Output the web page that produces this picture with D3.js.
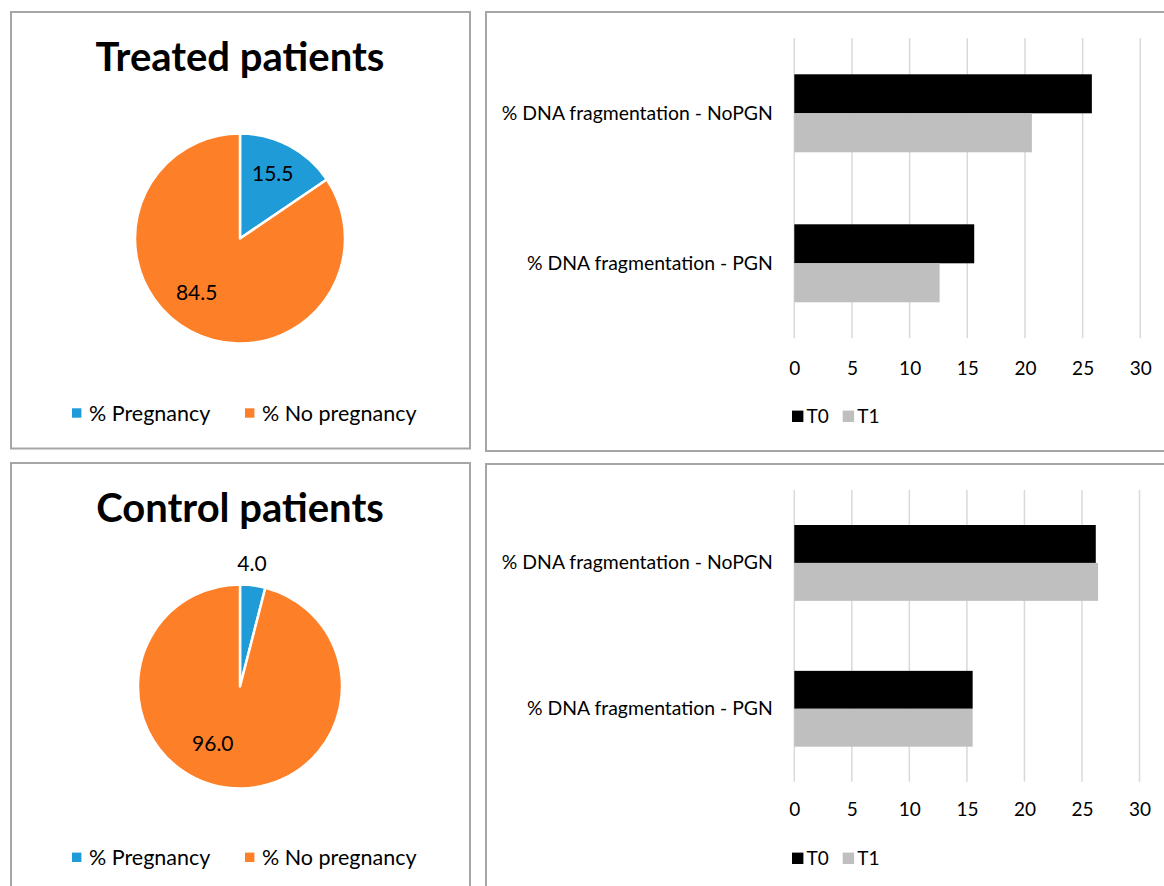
<!DOCTYPE html>
<html>
<head>
<meta charset="utf-8">
<script src="https://cdn.jsdelivr.net/npm/d3@7"></script>
<style>
  body { margin: 0; background: #fff; }
  text { font-family: Lato, "Open Sans", sans-serif; fill: #000; }
</style>
</head>
<body>
<svg id="chart" width="1164" height="886"></svg>
<script>
// ---- pregnancy outcome (pie charts) ----
const pieCategories = ["% Pregnancy", "% No pregnancy"];
const treatedPregnancy = [15.5, 84.5];
const controlPregnancy = [4.0, 96.0];
const pieTitles = ["Treated patients", "Control patients"];

// ---- sperm DNA fragmentation (bar charts) ----
const barCategories = ["% DNA fragmentation - NoPGN", "% DNA fragmentation - PGN"];
const barSeries = ["T0", "T1"];
const treatedT0 = [25.8, 15.6];
const treatedT1 = [20.6, 12.6];
const controlT0 = [26.2, 15.5];
const controlT1 = [26.4, 15.5];
const xTickValues = [0, 5, 10, 15, 20, 25, 30];

const pieColors = ["#1f9bd7", "#fd7f28"];
const barColors = { T0: "#000000", T1: "#bfbfbf" };
const frameColor = "#a6a6a6";

const svg = d3.select("#chart");
svg.append("rect").attr("width", 1164).attr("height", 886).attr("fill", "#fff");

function frame(x, y, w, h) {
  svg.append("rect")
    .attr("x", x).attr("y", y).attr("width", w).attr("height", h)
    .attr("fill", "none").attr("stroke", frameColor).attr("stroke-width", 2);
}

function drawPie(values, title, L) {
  frame(L.frame[0], L.frame[1], L.frame[2], L.frame[3]);

  svg.append("text")
    .attr("x", L.cx).attr("y", L.titleY)
    .attr("text-anchor", "middle")
    .style("font-size", "40px").style("font-weight", "700")
    .text(title);

  const arcs = d3.pie().sort(null).value(d => d)(values);
  const arc = d3.arc().innerRadius(0).outerRadius(L.r);
  const g = svg.append("g").attr("transform", `translate(${L.cx},${L.cy})`);

  g.selectAll("path").data(arcs).join("path")
    .attr("d", arc)
    .attr("fill", (d, i) => pieColors[i])
    .attr("stroke", "#fff").attr("stroke-width", 2.5)
    .attr("stroke-linejoin", "round");

  // data labels sit near each slice's mid angle
  g.selectAll("text.val").data(arcs).join("text")
    .attr("class", "val")
    .attr("transform", (d, i) => {
      const a = (d.startAngle + d.endAngle) / 2 + L.labelShift[i] * Math.PI / 180;
      const rr = L.labelRadius[i];
      return `translate(${rr * Math.sin(a)},${-rr * Math.cos(a)})`;
    })
    .attr("text-anchor", "middle").attr("dy", "0.35em")
    .style("font-size", "21px")
    .text(d => d.value.toFixed(1));

  // legend
  const lg = svg.append("g");
  pieCategories.forEach((c, i) => {
    lg.append("rect")
      .attr("x", L.legendX[i]).attr("y", L.legendY - 4.7)
      .attr("width", 9.4).attr("height", 9.4)
      .attr("fill", pieColors[i]);
    lg.append("text")
      .attr("x", L.legendX[i] + 17).attr("y", L.legendY + 7.5)
      .style("font-size", "21.5px")
      .text(c);
  });
}

function drawBars(t0, t1, L) {
  frame(L.frame[0], L.frame[1], L.frame[2], L.frame[3]);

  const x = d3.scaleLinear().domain([0, 30]).range([L.x0, L.x1]);
  const y = d3.scaleBand().domain(barCategories)
    .range([L.top, L.bottom]).paddingInner(0.48).paddingOuter(0.24);
  const ySub = d3.scaleBand().domain(barSeries).range([0, y.bandwidth()]);

  // vertical gridlines
  svg.append("g").selectAll("line").data(xTickValues).join("line")
    .attr("x1", d => x(d)).attr("x2", d => x(d))
    .attr("y1", L.top).attr("y2", L.bottom)
    .attr("stroke", "#d9d9d9").attr("stroke-width", 1.5);

  const rows = barCategories.map((c, i) => ({ cat: c, T0: t0[i], T1: t1[i] }));
  const grp = svg.append("g").selectAll("g").data(rows).join("g")
    .attr("transform", d => `translate(0,${y(d.cat)})`);
  grp.selectAll("rect").data(d => barSeries.map(s => ({ s, v: d[s] }))).join("rect")
    .attr("x", x(0)).attr("y", d => ySub(d.s))
    .attr("width", d => x(d.v) - x(0)).attr("height", ySub.bandwidth())
    .attr("fill", d => barColors[d.s]);

  // value axis labels
  const xAxis = svg.append("g")
    .attr("transform", `translate(0,${L.bottom})`)
    .call(d3.axisBottom(x).tickValues(xTickValues).tickSize(0).tickPadding(0));
  xAxis.select(".domain").remove();
  xAxis.selectAll("text")
    .attr("y", L.tickBaseline).attr("dy", 0)
    .style("font-size", "19px").style("font-family", "Lato, 'Open Sans', sans-serif")
    .attr("fill", "#000");

  // category labels
  const yAxis = svg.append("g")
    .attr("transform", `translate(${x(0)},0)`)
    .call(d3.axisLeft(y).tickSize(0).tickPadding(21.5));
  yAxis.select(".domain").remove();
  yAxis.selectAll("text")
    .style("font-size", "19.4px").style("font-family", "Lato, 'Open Sans', sans-serif")
    .attr("fill", "#000");

  // legend
  const lg = svg.append("g");
  barSeries.forEach((s, i) => {
    lg.append("rect")
      .attr("x", L.legendX[i]).attr("y", L.legendY - 5.7)
      .attr("width", 11.4).attr("height", 11.4)
      .attr("fill", barColors[s]);
    lg.append("text")
      .attr("x", L.legendX[i] + 14.5).attr("y", L.legendY + 6.3)
      .style("font-size", "19px")
      .text(s);
  });
}

drawPie(treatedPregnancy, pieTitles[0], {
  frame: [11, 12, 459, 436.5],
  cx: 240, cy: 238.5, r: 105, titleY: 71,
  labelShift: [-1, 10.6], labelRadius: [72.3, 69.6],
  legendX: [72, 245], legendY: 413
});
drawPie(controlPregnancy, pieTitles[1], {
  frame: [11, 463, 459, 500],
  cx: 240, cy: 686.5, r: 102, titleY: 522,
  labelShift: [-1.6, 18.3], labelRadius: [123.1, 63.2],
  legendX: [72, 245], legendY: 857.3
});

drawBars(treatedT0, treatedT1, {
  frame: [486, 12, 700, 439],
  x0: 794.3, x1: 1140.3, top: 38.3, bottom: 338.3,
  tickBaseline: 36.5,
  legendX: [792, 842.7], legendY: 416.3
});
drawBars(controlT0, controlT1, {
  frame: [486, 464, 700, 500],
  x0: 794.3, x1: 1139.5, top: 490, bottom: 781.7,
  tickBaseline: 34.5,
  legendX: [792, 842.7], legendY: 858.3
});
</script>
</body>
</html>
